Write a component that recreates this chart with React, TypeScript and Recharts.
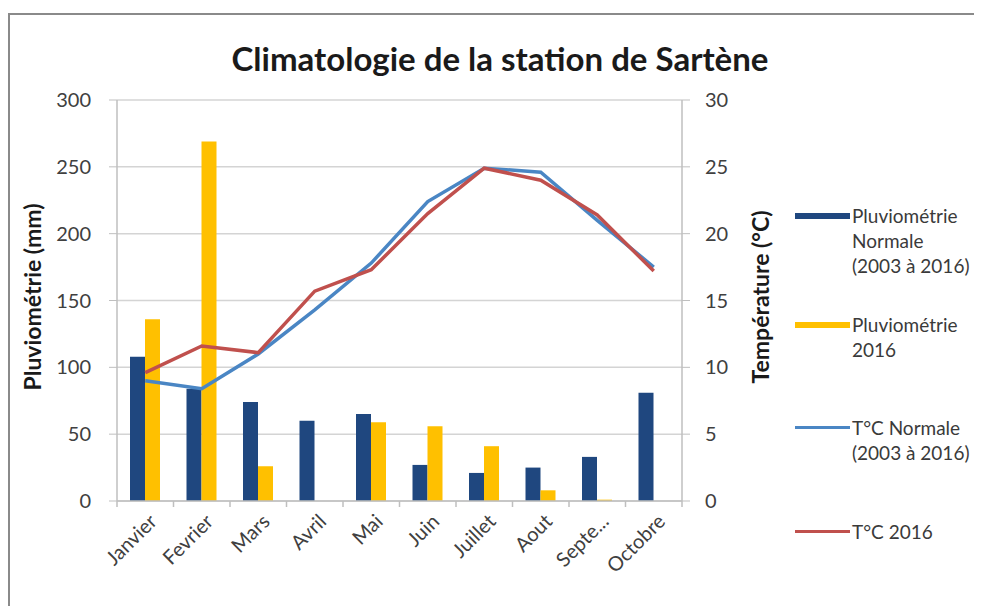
import { ComposedChart, Bar, Line, XAxis, YAxis, CartesianGrid } from "recharts";

const months = ["Janvier", "Fevrier", "Mars", "Avril", "Mai", "Juin", "Juillet", "Aout", "Septe...", "Octobre"];
const pluvioNormale = [108, 84, 74, 60, 65, 27, 21, 25, 33, 81];
const pluvio2016 = [136, 269, 26, 0, 59, 56, 41, 8, 1, 0];
const tempNormale = [9.0, 8.4, 11.0, 14.3, 17.8, 22.4, 24.9, 24.6, 21.0, 17.5];
const temp2016 = [9.6, 11.6, 11.1, 15.7, 17.3, 21.5, 24.9, 24.0, 21.4, 17.2];
const leftTicks = [0, 50, 100, 150, 200, 250, 300];
const rightTicks = [0, 5, 10, 15, 20, 25, 30];

const data = months.map((month, i) => ({
  month,
  pluvioNormale: pluvioNormale[i],
  pluvio2016: pluvio2016[i],
  tempNormale: tempNormale[i],
  temp2016: temp2016[i],
}));

const COLORS = {
  navy: "#1f477f",
  yellow: "#ffc000",
  blue: "#4a86c4",
  red: "#c0504d",
};

const FONT = "Lato, 'Open Sans', sans-serif";
const axisGray = "#bfbfbf";

const legendItems = [
  { label: ["Pluviométrie", "Normale", "(2003 à 2016)"], color: COLORS.navy, thick: 6, top: 195 },
  { label: ["Pluviométrie", "2016"], color: COLORS.yellow, thick: 6, top: 304 },
  { label: ["T°C Normale", "(2003 à 2016)"], color: COLORS.blue, thick: 3.5, top: 407 },
  { label: ["T°C 2016"], color: COLORS.red, thick: 3.5, top: 511 },
];

// category labels, plus little tick marks between categories like Excel does
const MonthTick = (props: any) => {
  const { x, y, payload, index, width, visibleTicksCount } = props;
  const half = width && visibleTicksCount ? width / visibleTicksCount / 2 : 28;
  const isLast = index === (visibleTicksCount ?? months.length) - 1;
  return (
    <g>
      <line x1={x - half} x2={x - half} y1={y - 8} y2={y - 2} stroke={axisGray} strokeWidth={1.5} />
      {isLast && <line x1={x + half} x2={x + half} y1={y - 8} y2={y - 2} stroke={axisGray} strokeWidth={1.5} />}
      <g transform={`translate(${x + 5},${y + 6})`}>
        <text
          x={0}
          y={0}
          dy={11}
          textAnchor="end"
          transform="rotate(-45)"
          fill="#404040"
          fontSize={20}
          fontFamily={FONT}
        >
          {payload.value}
        </text>
      </g>
    </g>
  );
};

export default function App() {
  return (
    <div style={{ position: "relative", width: 974, height: 598, fontFamily: FONT, overflow: "hidden" }}>
      <div
        style={{
          position: "absolute",
          left: 0,
          top: 5,
          width: 1200,
          height: 1200,
          borderTop: "2px solid #8a8a8a",
          borderLeft: "2px solid #8a8a8a",
        }}
      />
      <div
        style={{
          position: "absolute",
          left: 0,
          width: 984,
          top: 30,
          textAlign: "center",
          fontSize: 33,
          lineHeight: "40px",
          fontWeight: 700,
          color: "#1a1a1a",
        }}
      >
        Climatologie de la station de Sartène
      </div>
      <div
        style={{
          position: "absolute",
          left: 24,
          top: 289,
          transform: "translate(-50%, -50%) rotate(-90deg)",
          whiteSpace: "nowrap",
          fontSize: 23,
          fontWeight: 700,
          color: "#1a1a1a",
        }}
      >
        Pluviométrie (mm)
      </div>
      <div
        style={{
          position: "absolute",
          left: 752,
          top: 289,
          transform: "translate(-50%, -50%) rotate(-90deg)",
          whiteSpace: "nowrap",
          fontSize: 23,
          fontWeight: 700,
          color: "#1a1a1a",
        }}
      >
        Température (°C)
      </div>
      {legendItems.map((item) => (
        <div key={item.label[0] + item.top} style={{ position: "absolute", left: 787, top: item.top }}>
          <div
            style={{
              position: "absolute",
              left: 0,
              top: 12.5 - item.thick / 2,
              width: 55,
              height: item.thick,
              background: item.color,
            }}
          />
          <div style={{ position: "absolute", left: 57, top: 0, fontSize: 19, lineHeight: "25px", color: "#3a3a3a", whiteSpace: "nowrap" }}>
            {item.label.map((l) => (
              <div key={l}>{l}</div>
            ))}
          </div>
        </div>
      ))}
      <div style={{ position: "absolute", left: 0, top: 0 }}>
        <ComposedChart
          width={974}
          height={598}
          data={data}
          margin={{ top: 92, right: 240, bottom: 25, left: 49 }}
          barGap={0}
          barSize={15}
        >
          <CartesianGrid yAxisId="left" vertical={false} stroke="#d4d4d4" strokeWidth={1.5} />
          <XAxis
            dataKey="month"
            interval={0}
            height={80}
            tick={<MonthTick />}
            tickLine={false}
            axisLine={{ stroke: axisGray, strokeWidth: 1.5 }}
          />
          <YAxis
            yAxisId="left"
            width={60}
            domain={[0, 300]}
            ticks={leftTicks}
            tickSize={8}
            tickMargin={18}
            tickLine={{ stroke: axisGray }}
            axisLine={{ stroke: axisGray, strokeWidth: 1.5 }}
            tick={{ fill: "#404040", fontSize: 20, fontFamily: FONT }}
          />
          <YAxis
            yAxisId="right"
            orientation="right"
            width={60}
            domain={[0, 30]}
            ticks={rightTicks}
            tickSize={8}
            tickMargin={15}
            tickLine={{ stroke: axisGray }}
            axisLine={{ stroke: axisGray, strokeWidth: 1.5 }}
            tick={{ fill: "#404040", fontSize: 20, fontFamily: FONT, textAnchor: "start" }}
          />
          <Bar yAxisId="left" dataKey="pluvioNormale" fill={COLORS.navy} isAnimationActive={false} />
          <Bar yAxisId="left" dataKey="pluvio2016" fill={COLORS.yellow} isAnimationActive={false} />
          <Line
            yAxisId="right"
            type="linear"
            dataKey="tempNormale"
            stroke={COLORS.blue}
            strokeWidth={3.5}
            dot={false}
            isAnimationActive={false}
          />
          <Line
            yAxisId="right"
            type="linear"
            dataKey="temp2016"
            stroke={COLORS.red}
            strokeWidth={3.5}
            dot={false}
            isAnimationActive={false}
          />
        </ComposedChart>
      </div>
    </div>
  );
}
